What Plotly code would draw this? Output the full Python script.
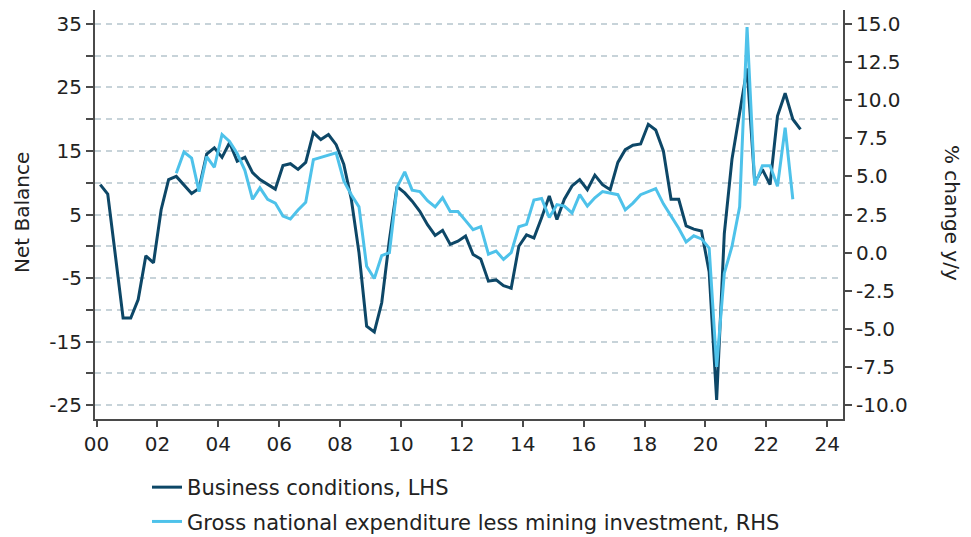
import pandas as pd
import plotly.graph_objects as go

# ---- data (quarterly) ----
business_start = "2000-02-01"
business = [9.7, 8.2, -1.5, -11.3, -11.3, -8.4, -1.5, -2.6, 5.8, 10.5,
            11.0, 9.6, 8.3, 9.1, 14.5, 15.5, 14.0, 16.3, 13.4, 14.0,
            11.6, 10.5, 9.7, 9.0, 12.7, 13.0, 12.1, 13.2, 17.9, 16.8,
            17.6, 16.0, 12.9, 7.4, -1.0, -12.6, -13.5, -8.9, 1.0, 9.4,
            8.4, 7.1, 5.5, 3.4, 1.7, 2.5, 0.3, 0.8, 1.6, -1.3,
            -2.0, -5.5, -5.3, -6.2, -6.6, 0.0, 1.8, 1.3, 4.5, 7.9,
            4.2, 7.4, 9.5, 10.5, 8.9, 11.2, 9.7, 8.9, 13.2, 15.2,
            15.9, 16.1, 19.2, 18.3, 15.0, 7.4, 7.4, 3.2, 2.7, 2.4,
            -4.0, -24.2, 2.0, 13.7, 21.0, 28.0, 10.0, 12.1, 9.7, 20.5,
            24.1, 20.0, 18.4]

gne_start = "2002-08-01"
gne = [5.2, 6.6, 6.2, 4.0, 6.3, 5.6, 7.75, 7.3, 6.5, 5.4,
       3.5, 4.25, 3.5, 3.25, 2.4, 2.2, 2.8, 3.3, 6.1, 6.25,
       6.4, 6.55, 4.7, 3.8, 3.0, -0.9, -1.7, -0.2, 0.0, 4.3,
       5.3, 4.1, 4.0, 3.4, 3.0, 3.6, 2.7, 2.7, 2.1, 1.5,
       1.7, -0.1, 0.1, -0.45, 0.0, 1.7, 1.85, 3.45, 3.55, 2.3,
       3.15, 3.05, 2.6, 3.8, 3.05, 3.6, 4.0, 3.9, 3.8, 2.8,
       3.25, 3.8, 4.0, 4.2, 3.2, 2.4, 1.6, 0.7, 1.1, 0.9,
       0.3, -7.5, -1.35, 0.4, 3.0, 14.8, 4.4, 5.7, 5.7, 4.35,
       8.2, 3.5]

x_tick_years = list(range(2000, 2025, 2))
x_tick_labels = ["00", "02", "04", "06", "08", "10", "12", "14", "16", "18", "20", "22", "24"]
left_tick_vals = [-25, -20, -15, -10, -5, 0, 5, 10, 15, 20, 25, 30, 35]
left_tick_labels = ["-25", "", "-15", "", "-5", "", "5", "", "15", "", "25", "", "35"]
right_tick_vals = [-10, -7.5, -5, -2.5, 0, 2.5, 5, 7.5, 10, 12.5, 15]
right_tick_labels = ["-10.0", "-7.5", "-5.0", "-2.5", "0.0", "2.5", "5.0", "7.5", "10.0", "12.5", "15.0"]

name_business = "Business conditions, LHS"
name_gne = "Gross national expenditure less mining investment, RHS"

# ---- x positions (mid-quarter) ----
def quarters(start, n):
    return pd.date_range(start, periods=n, freq="3MS") + pd.Timedelta(days=14)

bx = quarters(business_start, len(business))
gx = quarters(gne_start, len(gne))

DARK = "#0d4767"
LIGHT = "#4ec2ea"
AXIS = "#4a4a4a"
GRID = "#c7d3d9"
TXT = "#222222"
FONT = "DejaVu Sans"
FS = 20

# page has an 8px body margin -> figure 963x529, plot area at page x 95..843, y 10..419
W, H = 963, 529
ML, MR, MT, MB = 87, 128, 2, 118
PW, PH = W - ML - MR, H - MT - MB

def px_x(page_x):
    return (page_x - 8 - ML) / PW

def px_y(page_y):
    return 1 - (page_y - 8 - MT) / PH

fig = go.Figure()
fig.add_trace(go.Scatter(x=bx, y=business, name=name_business, mode="lines",
                         line=dict(color=DARK, width=3), legendgroup="a"))
fig.add_trace(go.Scatter(x=gx, y=gne, name=name_gne, mode="lines", yaxis="y2",
                         line=dict(color=LIGHT, width=3), legendgroup="b"))

fig.update_layout(
    width=W, height=H,
    margin=dict(l=ML, r=MR, t=MT, b=MB, autoexpand=False),
    paper_bgcolor="white", plot_bgcolor="white",
    font=dict(family=FONT, size=FS, color=TXT),
    showlegend=True,
    legend=dict(x=px_x(147), y=px_y(467), xanchor="left", yanchor="top",
                font=dict(family=FONT, size=21, color=TXT),
                tracegroupgap=4, bgcolor="rgba(0,0,0,0)"),
    xaxis=dict(type="date", range=["1999-12-14", "2024-07-09"],
               tickmode="array",
               tickvals=[f"{y}-01-01" for y in x_tick_years],
               ticktext=x_tick_labels,
               ticks="outside", ticklen=6, tickwidth=2, tickcolor=AXIS,
               showline=True, linecolor=AXIS, linewidth=2,
               showgrid=False, zeroline=False,
               tickfont=dict(family=FONT, size=FS, color=TXT)),
    yaxis=dict(range=[-27.2, 37.2], tickmode="array",
               tickvals=left_tick_vals, ticktext=left_tick_labels,
               ticks="outside", ticklen=7, tickwidth=2, tickcolor=AXIS,
               showline=True, linecolor=AXIS, linewidth=2,
               showgrid=True, gridcolor=GRID, gridwidth=1.5, griddash="6px,5px",
               zeroline=False,
               tickfont=dict(family=FONT, size=FS, color=TXT)),
    yaxis2=dict(range=[-10.92, 15.92], overlaying="y", side="right",
                tickmode="array", tickvals=right_tick_vals, ticktext=right_tick_labels,
                ticks="outside", ticklen=7, tickwidth=2, tickcolor=AXIS,
                showline=True, linecolor=AXIS, linewidth=2,
                showgrid=False, zeroline=False,
                tickfont=dict(family=FONT, size=FS, color=TXT)),
    annotations=[
        dict(text="Net Balance", xref="paper", yref="paper", x=px_x(22), y=px_y(213),
             xanchor="center", yanchor="middle", textangle=-90, showarrow=False,
             font=dict(family=FONT, size=FS, color=TXT)),
        dict(text="% change y/y", xref="paper", yref="paper", x=px_x(952), y=px_y(213),
             xanchor="center", yanchor="middle", textangle=90, showarrow=False,
             font=dict(family=FONT, size=FS, color=TXT)),
    ],
)

fig.write_html("out.html")
